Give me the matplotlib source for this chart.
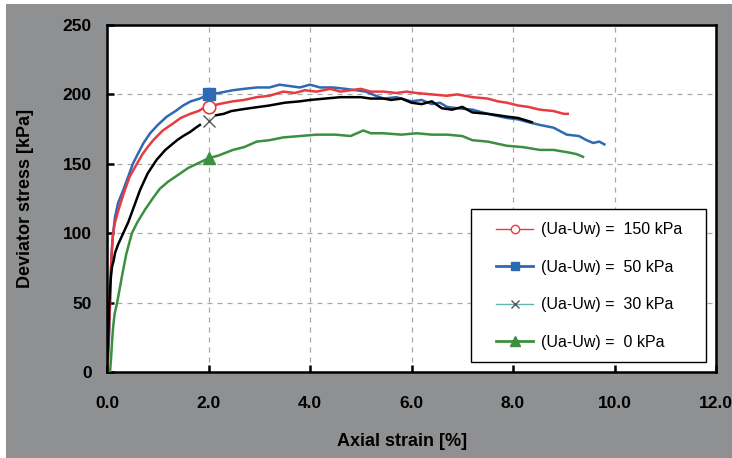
import numpy as np
import matplotlib
matplotlib.use('Agg')
import matplotlib.pyplot as plt
from matplotlib.lines import Line2D
from matplotlib.patches import Rectangle

plt.rcParams['font.family'] = ['Liberation Sans', 'DejaVu Sans']

# suction 150 kPa (red)
x150 = [0, 0.01, 0.03, 0.05, 0.07, 0.09, 0.12, 0.16, 0.22, 0.28, 0.35, 0.45, 0.59,
        0.7, 0.8, 0.91, 1.1, 1.3, 1.45, 1.64, 1.8, 1.9, 2.0, 2.2, 2.48, 2.7, 2.95,
        3.2, 3.47, 3.7, 3.9, 4.13, 4.4, 4.6, 4.8, 5.0, 5.2, 5.45, 5.7, 5.9, 6.1,
        6.4, 6.7, 6.9, 7.2, 7.5, 7.7, 7.88, 8.1, 8.3, 8.53, 8.8, 9.0, 9.08]
y150 = [0, 12, 20, 40, 65, 85, 100, 108, 116, 123, 131, 141, 150, 157, 162, 167,
        174, 179, 183, 186, 188, 190, 191, 193, 195, 196, 198, 199, 202, 201, 203,
        202, 204, 202, 203, 204, 202, 202, 201, 202, 201, 200, 199, 200, 198, 197,
        195, 194, 192, 191, 189, 188, 186, 186]

# suction 50 kPa (blue)
x50 = [0, 0.02, 0.04, 0.06, 0.08, 0.10, 0.12, 0.16, 0.22, 0.32, 0.42, 0.51, 0.62,
       0.72, 0.85, 1.0, 1.18, 1.35, 1.5, 1.65, 1.83, 2.0, 2.2, 2.48, 2.7, 2.95,
       3.2, 3.4, 3.6, 3.8, 4.0, 4.2, 4.45, 4.7, 4.9, 5.1, 5.3, 5.45, 5.7, 6.0,
       6.2, 6.4, 6.56, 6.7, 6.9, 7.2, 7.5, 7.88, 8.1, 8.3, 8.53, 8.8, 9.06, 9.3,
       9.45, 9.58, 9.7, 9.8]
y50 = [0, 8, 25, 50, 75, 90, 100, 112, 122, 131, 141, 150, 158, 165, 172, 178,
       184, 188, 192, 195, 197, 200, 201, 203, 204, 205, 205, 207, 206, 205, 207,
       205, 205, 204, 203, 202, 199, 197, 198, 195, 196, 193, 194, 191, 190, 189,
       186, 183, 182, 180, 178, 176, 171, 170, 167, 165, 166, 164]

# suction 30 kPa (black), gap in the record near 2 %
x30 = [0, 0.02, 0.04, 0.06, 0.08, 0.10, 0.13, 0.16, 0.22, 0.32, 0.42, 0.52, 0.65,
       0.8, 0.98, 1.15, 1.38, 1.5, 1.64, 1.75, 1.83, np.nan, 2.15, 2.3, 2.45,
       2.62, 2.8, 3.0, 3.2, 3.5, 3.8, 4.0, 4.3, 4.6, 4.8, 5.0, 5.2, 5.45, 5.6,
       5.8, 6.0, 6.2, 6.4, 6.6, 6.8, 7.0, 7.2, 7.5, 7.7, 7.88, 8.1, 8.37]
y30 = [0, 20, 45, 60, 70, 76, 80, 86, 92, 100, 108, 118, 131, 143, 153, 160, 167,
       170, 173, 176, 178, np.nan, 185, 186, 188, 189, 190, 191, 192, 194, 195,
       196, 197, 198, 198, 198, 197, 197, 196, 197, 194, 193, 195, 190, 189, 191,
       187, 186, 185, 184, 183, 180]

# suction 0 kPa (green)
x0 = [0.06, 0.08, 0.1, 0.12, 0.15, 0.2, 0.25, 0.3, 0.38, 0.49, 0.6, 0.75, 0.9,
      1.04, 1.2, 1.44, 1.6, 1.83, 2.0, 2.2, 2.48, 2.7, 2.95, 3.2, 3.47, 3.8,
      4.13, 4.5, 4.8, 5.05, 5.2, 5.45, 5.8, 6.1, 6.4, 6.7, 7.0, 7.2, 7.5, 7.88,
      8.2, 8.53, 8.8, 9.12, 9.25, 9.38]
y0 = [0, 10, 22, 32, 42, 50, 60, 70, 85, 100, 108, 117, 125, 132, 137, 143, 147,
      151, 154, 156, 160, 162, 166, 167, 169, 170, 171, 171, 170, 174, 172, 172,
      171, 172, 171, 171, 170, 167, 166, 163, 162, 160, 160, 158, 157, 155]

# single symbol per curve at 2 % strain
mark_x = [2.0, 2.0, 2.0, 2.0]
mark_y = [191, 200, 181, 154]

labels = ['(Ua-Uw) =  150 kPa', '(Ua-Uw) =  50 kPa',
          '(Ua-Uw) =  30 kPa', '(Ua-Uw) =  0 kPa']
xticks = [0, 2, 4, 6, 8, 10, 12]
yticks = [0, 50, 100, 150, 200, 250]

red = '#e83a40'
blue = '#2e69b3'
green = '#3c8f40'

fig = plt.figure(figsize=(7.32, 4.58), dpi=100)
fig.patch.set_facecolor('white')
fig.patches.append(Rectangle((6 / 732, 0), 1, 454 / 458, transform=fig.transFigure,
                             facecolor='#8f9092', edgecolor='none', zorder=-1))

ax = fig.add_axes([107 / 732, 86 / 458, 609 / 732, 347 / 458])
ax.set_facecolor('white')

ax.plot(x150, y150, color=red, lw=1.8, zorder=3)
ax.plot(x50, y50, color=blue, lw=1.8, zorder=2)
ax.plot(x30, y30, color='black', lw=1.8, zorder=4)
ax.plot(x0, y0, color=green, lw=1.8, zorder=3)

# markers
ax.plot(mark_x[0], mark_y[0], 'o', ms=9, mfc='white', mec=red, mew=1.2, zorder=5)
ax.plot(mark_x[1], mark_y[1], 's', ms=9, color=blue, zorder=5)
ax.plot(mark_x[2], mark_y[2], 'x', ms=9, color='#555555', mew=1.0, zorder=5)
ax.plot(mark_x[3], mark_y[3], '^', ms=9, color=green, zorder=5)

ax.set_xlim(0, 12)
ax.set_ylim(0, 250)
ax.set_xticks(xticks)
ax.set_xticklabels([f'{t:.1f}' for t in xticks])
ax.set_yticks(yticks)
ax.grid(True, color='#a8a8a8', linestyle=(0, (4, 4)), lw=0.9)
ax.set_axisbelow(True)

for sp in ax.spines.values():
    sp.set_linewidth(1.8)
ax.tick_params(axis='x', direction='in', length=5, width=1.8, pad=17)
ax.tick_params(axis='y', direction='in', length=5, width=1.8, pad=11)
for lab in ax.get_xticklabels() + ax.get_yticklabels():
    lab.set_fontweight('bold')
    lab.set_fontsize(12.5)

ax.set_xlabel('Axial strain [%]', fontsize=13, fontweight='bold')
ax.xaxis.set_label_coords(0.485, -0.175)
ax.set_ylabel('Deviator stress [kPa]', fontsize=13, fontweight='bold')
ax.yaxis.set_label_coords(-0.12, 0.5)

# legend frame drawn separately so the inner margins can match
ax.add_patch(Rectangle((0.598, 0.029), 0.386, 0.441, transform=ax.transAxes,
                       facecolor='white', edgecolor='black', lw=1.0, zorder=6))
handles = [
    Line2D([], [], color=red, lw=1.0, marker='o', ms=6, mfc='white', mec=red),
    Line2D([], [], color=blue, lw=2.0, marker='s', ms=6),
    Line2D([], [], color='#5fb5b0', lw=1.0, marker='x', ms=6, mec='#555555'),
    Line2D([], [], color=green, lw=2.0, marker='^', ms=7),
]
leg = ax.legend(handles, labels, loc='upper left', bbox_to_anchor=(0.639, 0.431),
                fontsize=11.5, numpoints=1, handlelength=2.3, labelspacing=1.4,
                borderpad=0, handletextpad=0.5, frameon=False, borderaxespad=0)
leg.set_zorder(7)

fig.savefig('out.png', dpi=100)
